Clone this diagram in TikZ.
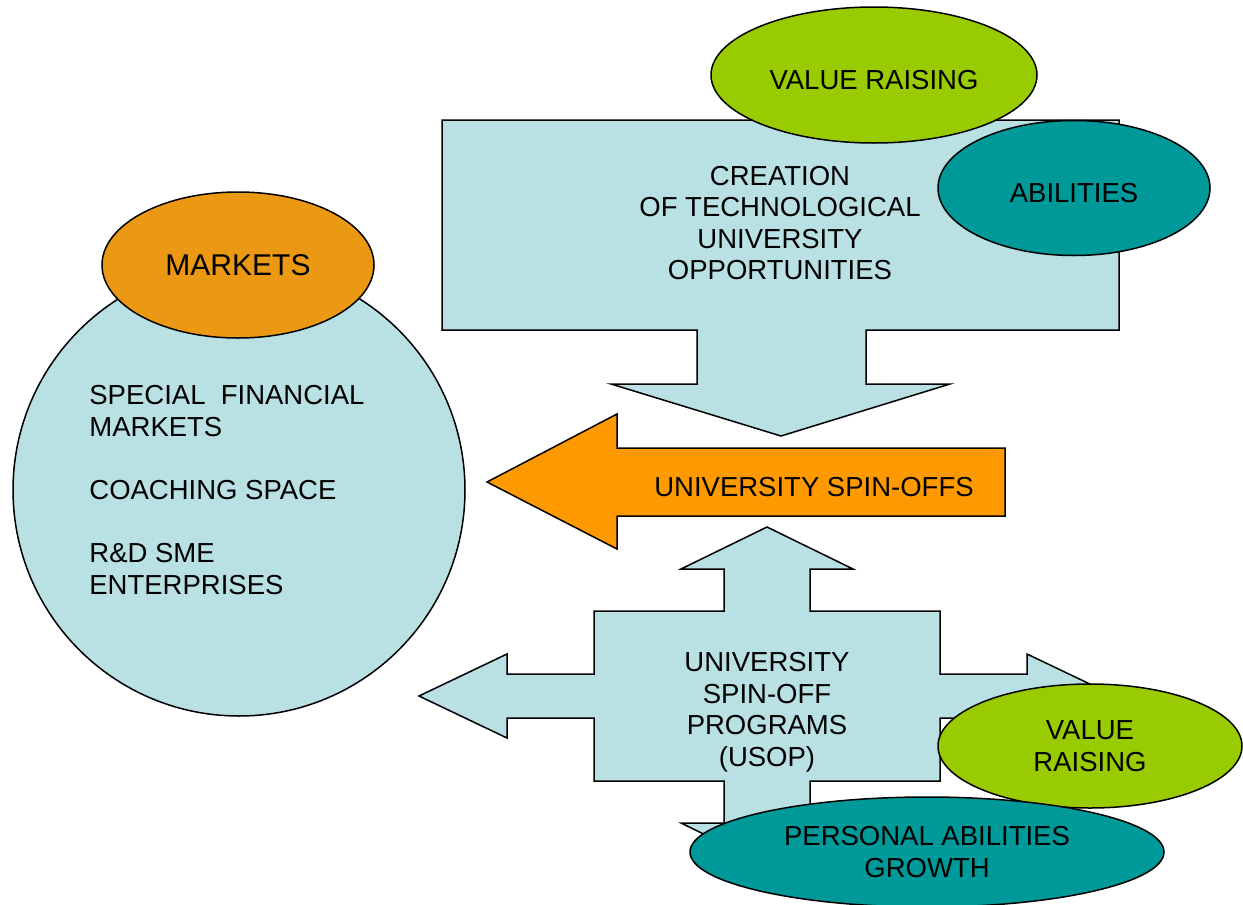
\documentclass[tikz,border=0pt]{standalone}
\usepackage{fontspec}
\setmainfont{Liberation Sans}
\usetikzlibrary{shapes.geometric}
\definecolor{paleblue}{RGB}{185,224,227}
\definecolor{spinorange}{RGB}{255,153,0}
\definecolor{marketorange}{RGB}{235,153,20}
\definecolor{limegreen}{RGB}{153,204,0}
\definecolor{darkteal}{RGB}{0,153,153}
\tikzset{
  outline/.style={draw=black,line width=0.75pt,line join=miter},
  bubble/.style={outline,ellipse,inner sep=0pt,align=center},
  caption/.style={align=center,inner sep=0pt},
}
\begin{document}
\begin{tikzpicture}[x=0.5pt,y=-0.5pt,font=\fontsize{13.75}{15.75}\selectfont]
\useasboundingbox (0,0) rectangle (1243,905);
% left circle with the markets bubble on top
\node[outline,circle,fill=paleblue,minimum size=226pt] (fin) at (239,490) {};
\node[anchor=north west,align=left,inner sep=0pt,font=\fontsize{13.75}{16}\selectfont] (fintext) at (89,385)
  {SPECIAL\ \ FINANCIAL\\MARKETS\\[15.5pt]COACHING SPACE\\[15.5pt]R\&D SME\\ENTERPRISES};
\node[bubble,fill=marketorange,minimum width=136pt,minimum height=73pt,font=\fontsize{15}{17}\selectfont] (markets) at (238,265) {MARKETS};
% top panel with its down arrow
\draw[outline,fill=paleblue] (442,120) -- (1119,120) -- (1119,330) -- (866,330) -- (866,384)
  -- (950,384) -- (781,436) -- (611,384) -- (697,384) -- (697,330) -- (442,330) -- cycle;
\node[caption] (creation) at (780,223) {CREATION\\OF TECHNOLOGICAL\\UNIVERSITY\\OPPORTUNITIES};
\node[bubble,fill=limegreen,minimum width=163pt,minimum height=68pt] (raise) at (874,75) {};
\node[caption] (raisetext) at ([yshift=-2.5pt]raise.center) {VALUE RAISING};
\node[bubble,fill=darkteal,minimum width=136pt,minimum height=67.5pt] (abil) at (1074,188) {};
\node[caption] (abiltext) at ([yshift=-2.75pt]abil.center) {ABILITIES};
% spin-off arrow pointing left
\draw[outline,fill=spinorange] (487,482) -- (617,414) -- (617,448) -- (1005,448) -- (1005,516)
  -- (617,516) -- (617,549) -- cycle;
\node[caption] (spinoffs) at (814,487) {UNIVERSITY SPIN-OFFS};
% four-way arrow
\draw[outline,fill=paleblue] (767,527) -- (853,569) -- (810,569) -- (810,611) -- (940,611)
  -- (940,674) -- (1027,674) -- (1027,654) -- (1115,696) -- (1027,738) -- (1027,718)
  -- (940,718) -- (940,781) -- (810,781) -- (810,823) -- (853,823) -- (767,865)
  -- (681,823) -- (724,823) -- (724,781) -- (594,781) -- (594,718) -- (507,718)
  -- (507,738) -- (419,696) -- (507,654) -- (507,674) -- (594,674) -- (594,611)
  -- (724,611) -- (724,569) -- (681,569) -- cycle;
\node[caption] (usop) at (767,712) {UNIVERSITY\\SPIN-OFF\\PROGRAMS\\(USOP)};
\node[bubble,fill=limegreen,minimum width=152pt,minimum height=62pt] (raise2) at (1090,746) {VALUE\\RAISING};
\node[bubble,fill=darkteal,minimum width=237pt,minimum height=55pt] (growth) at (927,852) {PERSONAL ABILITIES\\GROWTH};
\end{tikzpicture}
\end{document}
